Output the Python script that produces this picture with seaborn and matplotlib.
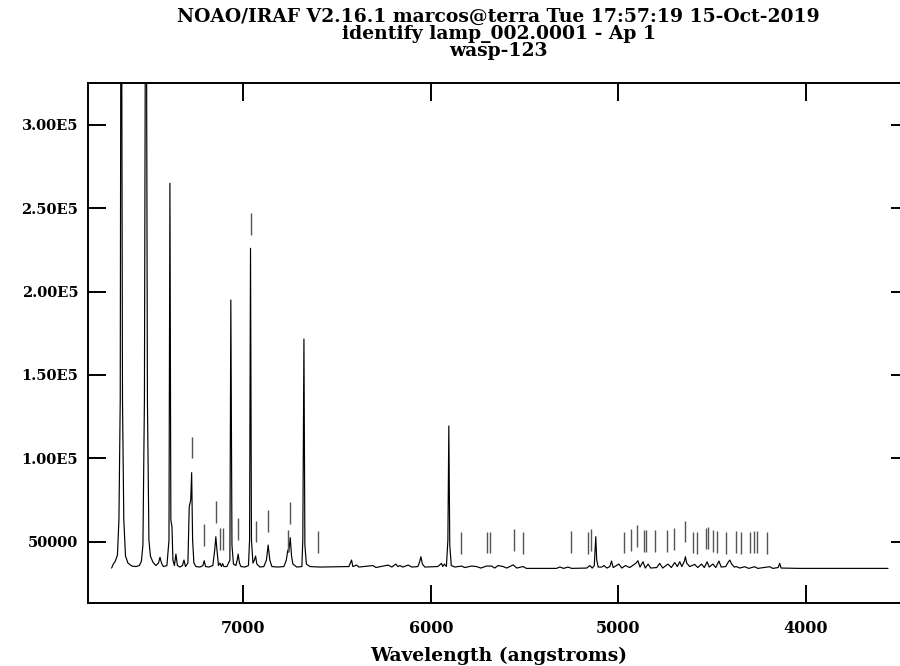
import matplotlib
matplotlib.use("Agg")
import matplotlib.pyplot as plt
import seaborn as sns
import pandas as pd

# ---------------- data ----------------
title_lines = [
    "NOAO/IRAF V2.16.1 marcos@terra Tue 17:57:19 15-Oct-2019",
    "identify lamp_002.0001 - Ap 1",
    "wasp-123",
]
x_label = "Wavelength (angstroms)"

x_ticks = [7000, 6000, 5000, 4000]
x_tick_labels = ["7000", "6000", "5000", "4000"]
y_ticks = [50000, 100000, 150000, 200000, 250000, 300000]
y_tick_labels = ["50000", "1.00E5", "1.50E5", "2.00E5", "2.50E5", "3.00E5"]

# spectrum polyline vertices (wavelength in Angstrom, flux in counts)
wave = [
    7703, 7694, 7683, 7672, 7664, 7657, 7652, 7645, 7638, 7629, 7616, 7595, 7573,
    7555, 7544, 7536, 7528, 7520, 7512, 7504, 7496, 7483, 7467, 7453, 7445, 7437,
    7427, 7408, 7397, 7392, 7387, 7381, 7376, 7368, 7360, 7352, 7339, 7325, 7317,
    7309, 7296, 7289, 7281, 7276, 7271, 7264, 7253, 7232, 7216, 7209, 7202, 7184,
    7163, 7153, 7147, 7141, 7133, 7125, 7117, 7111, 7104, 7088, 7072, 7067, 7061,
    7053, 7040, 7033, 7028, 7021, 7013, 6992, 6973, 6967, 6962, 6957, 6949, 6941,
    6935, 6928, 6912, 6891, 6877, 6868, 6859, 6848, 6816, 6784, 6771, 6763, 6758,
    6750, 6743, 6736, 6715, 6688, 6683, 6677, 6672, 6664, 6645,
    6592, 6437, 6427, 6423, 6416, 6396, 6384, 6308, 6293, 6228, 6208, 6187, 6176,
    6165, 6149, 6121, 6101, 6069, 6060, 6053, 6045, 6032, 5963, 5943, 5936, 5928,
    5917, 5909, 5904, 5899, 5891, 5872, 5836, 5819, 5783, 5756, 5733, 5703, 5676,
    5659, 5641, 5614, 5595, 5561, 5541, 5508, 5490, 5330, 5312, 5291, 5269, 5248,
    5168, 5152, 5139, 5128, 5124, 5120, 5115, 5107, 5088, 5076, 5061, 5045, 5036,
    5027, 4997, 4981, 4962, 4939, 4907, 4895, 4884, 4868, 4856, 4841, 4827, 4795,
    4779, 4763, 4735, 4717, 4699, 4685, 4672, 4661, 4647, 4642, 4635, 4619, 4592,
    4576, 4556, 4541, 4526, 4515, 4495, 4480, 4463, 4451, 4427, 4413, 4405, 4395,
    4381, 4370, 4352, 4325, 4304, 4272, 4256, 4192, 4176, 4147, 4139, 4131, 4032,
    3561,
]
flux = [
    34200, 36600, 38400, 42000, 63000, 135000, 500000, 135000, 63000, 41500, 37200, 35400, 35100,
    35700, 38400, 48000, 135000, 500000, 135000, 51000, 41400, 37800, 35700, 37200, 40650, 37200,
    35100, 35700, 51000, 264900, 63000, 59000, 39000, 35700, 42600, 35700, 34800, 35700, 39000,
    35100, 37200, 70800, 75000, 91400, 51000, 37200, 35100, 34800, 35700, 38600, 35100, 34800,
    35700, 45000, 53000, 45000, 35700, 37200, 35100, 36900, 35100, 35100, 39000, 194900, 48000,
    36600, 35700, 39000, 42600, 37200, 35100, 34800, 35700, 51000, 225900, 51000, 37200, 39000,
    41400, 36600, 34800, 35100, 39000, 48000, 39000, 35100, 34800, 35100, 39000, 45000, 43800,
    52400, 41400, 36600, 34800, 35100, 51000, 171500, 48000, 36600, 35100,
    34800, 35100, 37800, 39000, 35100, 36000, 34800, 35700, 34500, 36000, 34800, 36600, 35100,
    35700, 34800, 36000, 34800, 35100, 37800, 41000, 36600, 34800, 35100, 37000, 35100, 36600,
    35100, 51000, 119400, 48000, 35700, 34800, 35400, 34500, 35400, 35100, 34200, 35400, 35400,
    34200, 35700, 35100, 34200, 36100, 34200, 35100, 34000, 34000, 34800, 34000, 34800, 34000,
    34200, 35700, 34200, 35700, 45000, 53000, 39000, 34800, 34800, 35700, 34200, 35100, 38400,
    34500, 36600, 34200, 35700, 34500, 37000, 38600, 34800, 38000, 34200, 36600, 34200, 34500,
    37000, 34200, 36600, 34500, 37500, 35100, 38000, 35100, 38400, 41000, 37200, 35100, 36400,
    34500, 36600, 34500, 38000, 34800, 36600, 34500, 38400, 34800, 35100, 37800, 39000, 36600,
    34800, 35100, 34200, 35000, 34000, 35000, 34000, 35000, 34000, 34500, 37000, 34200, 34000,
    34000,
]

# identified-line marks: wavelength and flux at the lower end of each mark
mark_wave = [
    7276, 7209, 7147, 7125, 7108, 7029, 6962, 6935, 6868, 6763, 6750, 6604,
    5840, 5698, 5687, 5556, 5506, 5253, 5161, 5148, 4972, 4933, 4899, 4864,
    4853, 4802, 4738, 4704, 4642, 4601, 4580, 4530, 4519, 4495, 4473, 4427,
    4370, 4347, 4299, 4276, 4258, 4204,
]
mark_base = [
    100000, 47400, 61400, 45000, 45000, 51000, 233900, 49600, 56000, 44000, 60600, 43400,
    42600, 43000, 43000, 44500, 42600, 43400, 42600, 44400, 43000, 44400, 47000, 44000,
    44000, 44000, 44000, 45000, 49600, 43000, 42600, 45500, 45900, 44000, 43400, 42600,
    43400, 42800, 43000, 43400, 43400, 42600,
]
mark_length = 13000

# ---------------- plotting ----------------
sns.set_style("ticks")
plt.rcParams["font.family"] = ["DejaVu Serif", "Liberation Serif"]
plt.rcParams["font.weight"] = "bold"
plt.rcParams["text.color"] = "black"
plt.rcParams["axes.labelcolor"] = "black"
plt.rcParams["xtick.color"] = "black"
plt.rcParams["ytick.color"] = "black"

fig = plt.figure(figsize=(9.0, 6.66), dpi=100)
ax = fig.add_axes([88 / 900, (666 - 603) / 666, (909 - 88) / 900, (603 - 83) / 666])

df = pd.DataFrame({"wave": wave, "flux": flux})
sns.lineplot(data=df, x="wave", y="flux", ax=ax, color="black", linewidth=0.85,
             estimator=None, sort=False)

mark_top = [b + mark_length for b in mark_base]
ax.vlines(mark_wave, mark_base, mark_top, color="#555555", linewidth=1.0)

ax.set_xlim(7829, 3449)
ax.set_ylim(13250, 325000)

ax.set_xticks(x_ticks)
ax.set_xticklabels(x_tick_labels)
ax.set_yticks(y_ticks)
ax.set_yticklabels(y_tick_labels)
ax.minorticks_off()

ax.tick_params(axis="both", which="major", direction="in", length=13, width=1.4,
               top=True, right=True, colors="black")
ax.tick_params(axis="x", pad=12, labelsize=11.5)
ax.tick_params(axis="y", pad=7, labelsize=10.5)
for lab in ax.get_xticklabels() + ax.get_yticklabels():
    lab.set_fontweight("bold")

for sp in ax.spines.values():
    sp.set_visible(True)
    sp.set_linewidth(1.4)
    sp.set_color("black")

ax.set_xlabel(x_label, fontsize=13.5, fontweight="bold", labelpad=7, color="black")
ax.set_ylabel("")

cx = (88 + 909) / 2 / 900
for i, line in enumerate(title_lines):
    fig.text(cx, 1 - (17 + 17 * i) / 666, line, ha="center", va="center",
             fontsize=13.5, fontweight="bold", color="black")

fig.savefig("out.png", dpi=100)
